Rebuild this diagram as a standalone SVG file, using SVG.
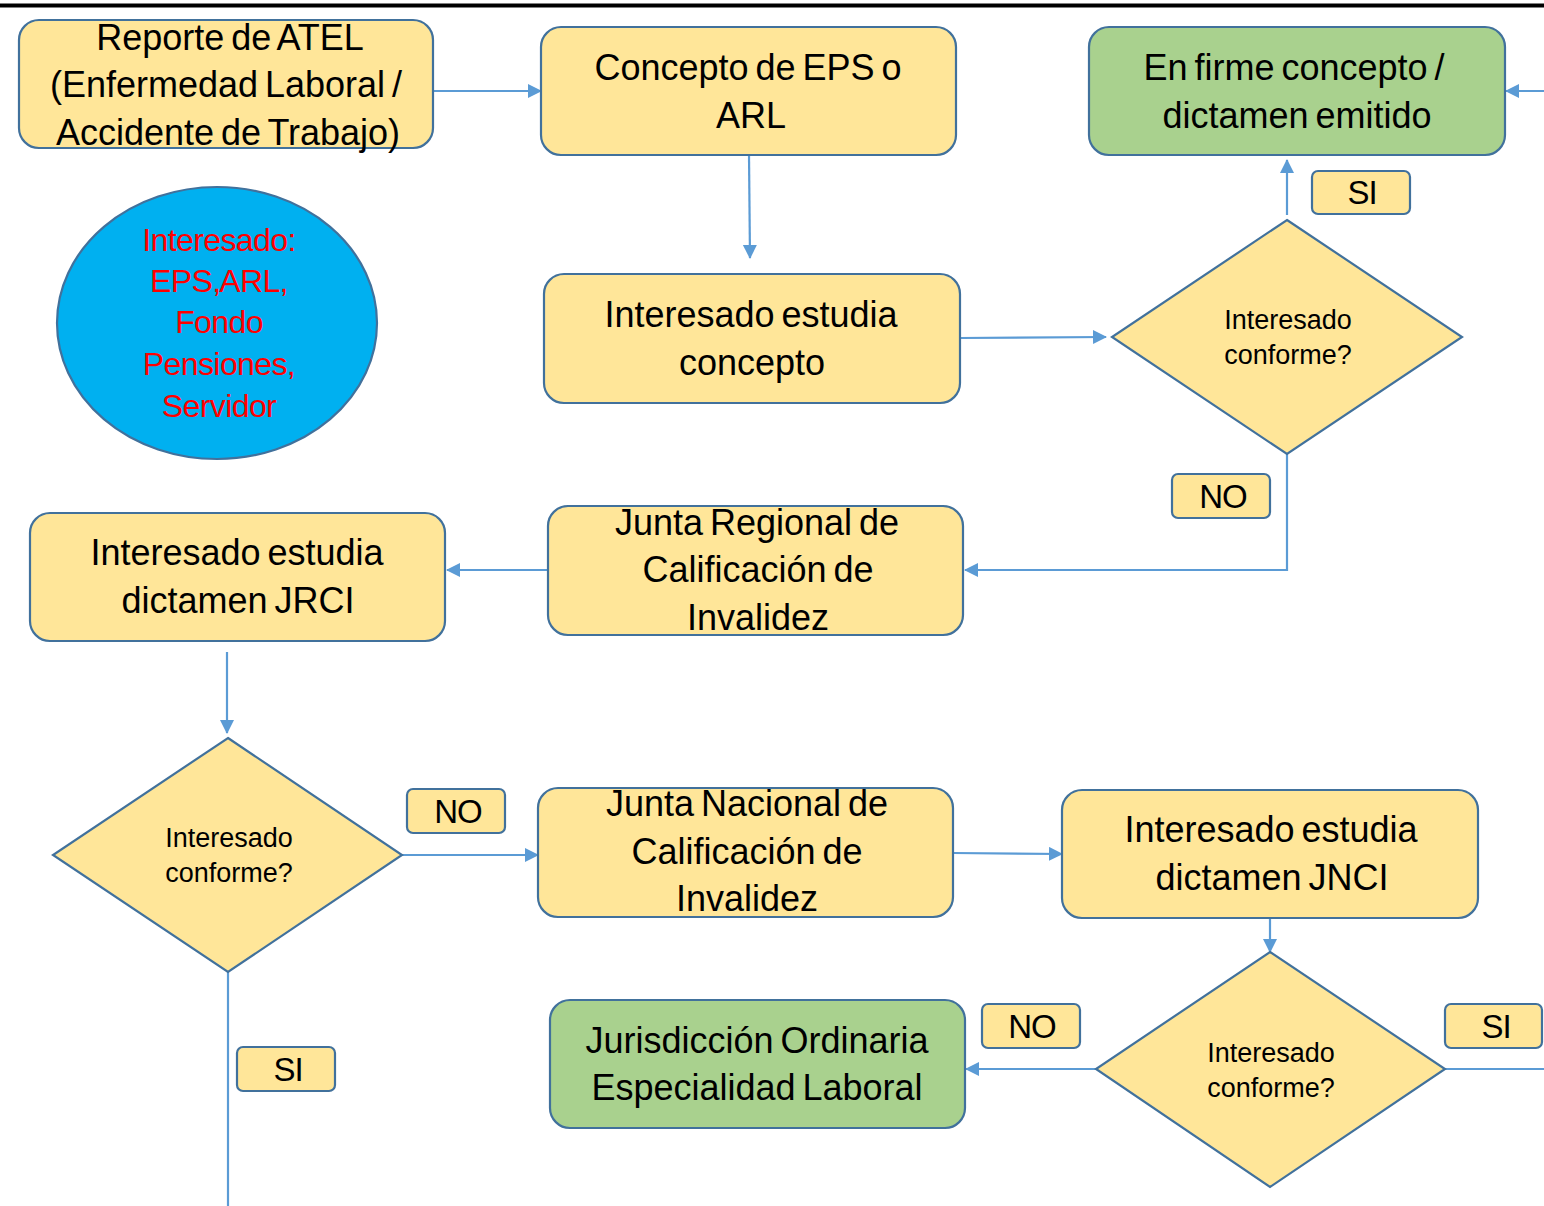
<svg xmlns="http://www.w3.org/2000/svg" width="1544" height="1206" viewBox="0 0 1544 1206">
<defs>
<marker id="ah" markerUnits="userSpaceOnUse" markerWidth="15" markerHeight="15" refX="13" refY="7" orient="auto">
<path d="M0,0 L14,7 L0,14 Z" fill="#5b9bd5"/>
</marker>
</defs>
<style>
.box{fill:#ffe699;stroke:#41719c;stroke-width:2.2}
.green{fill:#a9d18e;stroke:#41719c;stroke-width:2.2}
.lbl{fill:#ffe699;stroke:#41719c;stroke-width:2.2}
.t{font-family:"Liberation Sans",Arial,sans-serif;font-size:36px;fill:#000;text-anchor:middle;word-spacing:-3px}
.d{font-family:"Liberation Sans",Arial,sans-serif;font-size:27px;fill:#000;text-anchor:middle}
.l{font-family:"Liberation Sans",Arial,sans-serif;font-size:33px;fill:#000;text-anchor:middle;letter-spacing:-1px}
.r{font-family:"Liberation Sans",Arial,sans-serif;font-size:32px;fill:#ff0000;text-anchor:middle;letter-spacing:-0.6px}
.c{fill:none;stroke:#5b9bd5;stroke-width:2.2}
</style>
<rect width="1544" height="1206" fill="#ffffff"/>
<line x1="0" y1="5.5" x2="1544" y2="5.5" stroke="#000" stroke-width="4"/>

<g id="connectors">
<line class="c" x1="433" y1="91" x2="541" y2="91" marker-end="url(#ah)"/>
<line class="c" x1="749" y1="155" x2="750" y2="258" marker-end="url(#ah)"/>
<line class="c" x1="960" y1="338" x2="1106" y2="337" marker-end="url(#ah)"/>
<line class="c" x1="1287" y1="215" x2="1287" y2="160" marker-end="url(#ah)"/>
<line class="c" x1="1544" y1="91" x2="1506" y2="91" marker-end="url(#ah)"/>
<polyline class="c" points="1287,454 1287,570 965,570" marker-end="url(#ah)"/>
<line class="c" x1="548" y1="570" x2="447" y2="570" marker-end="url(#ah)"/>
<line class="c" x1="227" y1="652" x2="227" y2="733" marker-end="url(#ah)"/>
<line class="c" x1="402" y1="855" x2="538" y2="855" marker-end="url(#ah)"/>
<line class="c" x1="953" y1="853" x2="1062" y2="854" marker-end="url(#ah)"/>
<line class="c" x1="1270" y1="918" x2="1270" y2="952" marker-end="url(#ah)"/>
<line class="c" x1="1096" y1="1069" x2="966" y2="1069" marker-end="url(#ah)"/>
<line class="c" x1="1445" y1="1069" x2="1544" y2="1069"/>
<line class="c" x1="228" y1="972" x2="228" y2="1206"/>
</g>

<g id="n-reporte">
<rect class="box" x="19" y="20" width="414" height="128" rx="20"/>
<text class="t" x="230" y="50">Reporte de ATEL</text>
<text class="t" x="226" y="97">(Enfermedad Laboral /</text>
<text class="t" x="228" y="145">Accidente de Trabajo)</text>
</g>

<g id="n-concepto">
<rect class="box" x="541" y="27" width="415" height="128" rx="20"/>
<text class="t" x="748" y="80">Concepto de EPS o</text>
<text class="t" x="751" y="128">ARL</text>
</g>

<g id="n-enfirme">
<rect class="green" x="1089" y="27" width="416" height="128" rx="20"/>
<text class="t" x="1294" y="80">En firme concepto /</text>
<text class="t" x="1297" y="128">dictamen emitido</text>
</g>

<g id="n-interesado-rol">
<ellipse cx="217" cy="323" rx="160" ry="136" fill="#00b0f0" stroke="#41719c" stroke-width="2.2"/>
<text class="r" x="219" y="251">Interesado:</text>
<text class="r" x="219" y="292" style="word-spacing:-8px">EPS, ARL,</text>
<text class="r" x="219" y="333">Fondo</text>
<text class="r" x="219" y="375">Pensiones,</text>
<text class="r" x="219" y="417">Servidor</text>
</g>

<g id="n-estudia-concepto">
<rect class="box" x="544" y="274" width="416" height="129" rx="20"/>
<text class="t" x="751" y="327">Interesado estudia</text>
<text class="t" x="752" y="375">concepto</text>
</g>

<g id="n-dec1">
<polygon class="box" points="1287,220 1462,337 1287,454 1112,337"/>
<text class="d" x="1288" y="329">Interesado</text>
<text class="d" x="1288" y="364">conforme?</text>
</g>

<g id="l-si1">
<rect class="lbl" x="1312" y="171" width="98" height="43" rx="6"/>
<text class="l" x="1362" y="204">SI</text>
</g>

<g id="l-no1">
<rect class="lbl" x="1172" y="474" width="98" height="44" rx="6"/>
<text class="l" x="1223" y="508">NO</text>
</g>

<g id="n-jrci">
<rect class="box" x="548" y="506" width="415" height="129" rx="20"/>
<text class="t" x="757" y="535">Junta Regional de</text>
<text class="t" x="758" y="582">Calificación de</text>
<text class="t" x="758" y="630">Invalidez</text>
</g>

<g id="n-estudia-jrci">
<rect class="box" x="30" y="513" width="415" height="128" rx="20"/>
<text class="t" x="237" y="565">Interesado estudia</text>
<text class="t" x="238" y="613">dictamen JRCI</text>
</g>

<g id="n-dec2">
<polygon class="box" points="228,738 402,855 228,972 53,855"/>
<text class="d" x="229" y="847">Interesado</text>
<text class="d" x="229" y="882">conforme?</text>
</g>

<g id="l-no2">
<rect class="lbl" x="407" y="789" width="98" height="44" rx="6"/>
<text class="l" x="458" y="823">NO</text>
</g>

<g id="n-jnci">
<rect class="box" x="538" y="788" width="415" height="129" rx="20"/>
<text class="t" x="747" y="816">Junta Nacional de</text>
<text class="t" x="747" y="864">Calificación de</text>
<text class="t" x="747" y="911">Invalidez</text>
</g>

<g id="n-estudia-jnci">
<rect class="box" x="1062" y="790" width="416" height="128" rx="20"/>
<text class="t" x="1271" y="842">Interesado estudia</text>
<text class="t" x="1272" y="890">dictamen JNCI</text>
</g>

<g id="n-dec3">
<polygon class="box" points="1270,952 1445,1069 1270,1187 1096,1069"/>
<text class="d" x="1271" y="1062">Interesado</text>
<text class="d" x="1271" y="1097">conforme?</text>
</g>

<g id="l-si3">
<rect class="lbl" x="1445" y="1004" width="97" height="44" rx="6"/>
<text class="l" x="1496" y="1038">SI</text>
</g>

<g id="l-no3">
<rect class="lbl" x="982" y="1004" width="98" height="44" rx="6"/>
<text class="l" x="1032" y="1038">NO</text>
</g>

<g id="n-jurisdiccion">
<rect class="green" x="550" y="1000" width="415" height="128" rx="20"/>
<text class="t" x="757" y="1053">Jurisdicción Ordinaria</text>
<text class="t" x="757" y="1100">Especialidad Laboral</text>
</g>

<g id="l-si2">
<rect class="lbl" x="237" y="1047" width="98" height="44" rx="6"/>
<text class="l" x="288" y="1081">SI</text>
</g>
</svg>
